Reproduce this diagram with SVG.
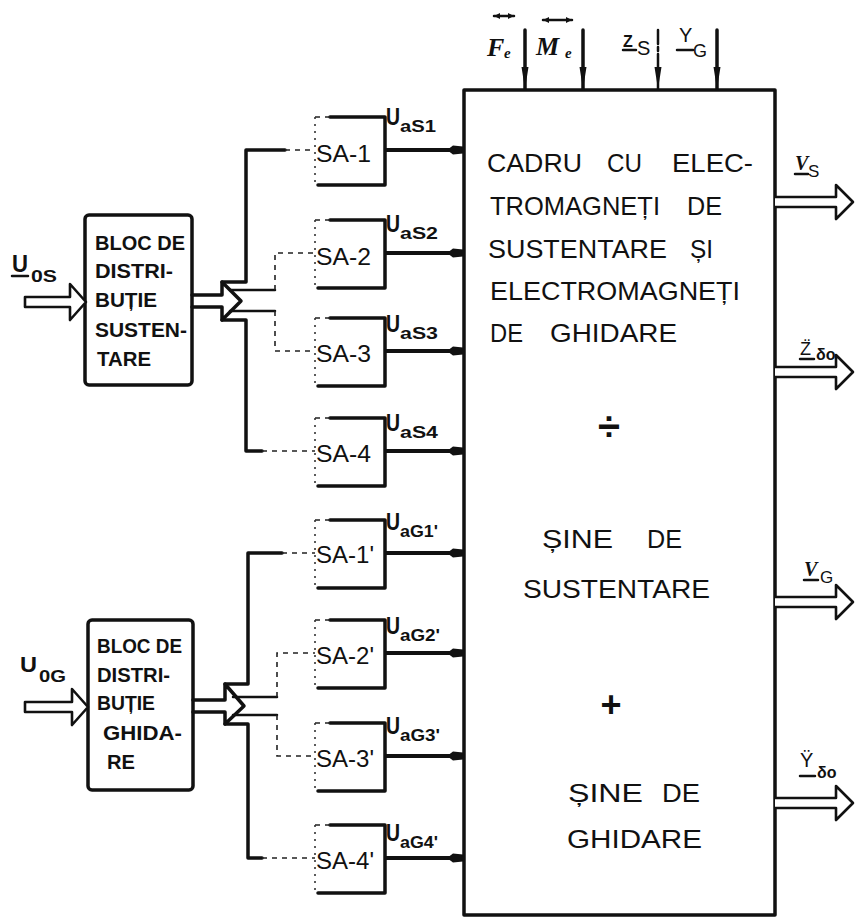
<svg xmlns="http://www.w3.org/2000/svg" width="856" height="918" viewBox="0 0 856 918">
<style>
.ln{stroke:#111;stroke-width:3.5;fill:none;stroke-linecap:round;stroke-linejoin:round}
.md{stroke:#111;stroke-width:2.5;fill:none;stroke-linecap:round;stroke-linejoin:round}
.dash{stroke:#222;stroke-width:1.6;fill:none;stroke-dasharray:5 5}
.dot{stroke:#333;stroke-width:1.6;fill:none;stroke-dasharray:2 5}
.dbl{stroke:#111;stroke-width:2.6;fill:#fff;stroke-linejoin:round}
.out{stroke:#111;stroke-width:4;fill:none}
.t{font-family:"Liberation Sans",Arial,sans-serif;fill:#111}
.big{font-size:26px}
.bl{font-size:21px;font-weight:bold}
.sa{font-size:24px}
.u{font-size:24px;font-weight:bold}
.sub{font-size:17px;font-weight:bold}
.it{font-family:"Liberation Serif","Times New Roman",serif;font-style:italic;font-weight:bold;fill:#111}
</style>
<defs>
<marker id="ah" markerUnits="userSpaceOnUse" markerWidth="18" markerHeight="12" refX="16" refY="6" orient="auto"><path d="M0,6 L6,1.5 L16,2.5 L16,9.5 L6,10.5 Z" fill="#111"/></marker>
<marker id="dn" markerUnits="userSpaceOnUse" markerWidth="24" markerHeight="10" refX="22" refY="5" orient="auto"><path d="M0,1.5 L22,5 L0,8.5 Z" fill="#111"/></marker>
<marker id="va" markerUnits="userSpaceOnUse" markerWidth="8" markerHeight="8" refX="6" refY="4" orient="auto-start-reverse"><path d="M0,1 L6,4 L0,7 Z" fill="#111"/></marker>
</defs>

<g id="main-block">
<rect x="464" y="90" width="311" height="825" class="ln"/>
<text class="t big" y="172"><tspan x="487" textLength="95" lengthAdjust="spacingAndGlyphs">CADRU</tspan><tspan x="607" textLength="35" lengthAdjust="spacingAndGlyphs">CU</tspan><tspan x="672" textLength="81" lengthAdjust="spacingAndGlyphs">ELEC-</tspan></text>
<text class="t big" y="215"><tspan x="490" textLength="170" lengthAdjust="spacingAndGlyphs">TROMAGNEȚI</tspan><tspan x="687" textLength="35" lengthAdjust="spacingAndGlyphs">DE</tspan></text>
<text class="t big" y="258"><tspan x="488" textLength="179" lengthAdjust="spacingAndGlyphs">SUSTENTARE</tspan><tspan x="690" textLength="23" lengthAdjust="spacingAndGlyphs">ȘI</tspan></text>
<text class="t big" y="300"><tspan x="490" textLength="250" lengthAdjust="spacingAndGlyphs">ELECTROMAGNEȚI</tspan></text>
<text class="t big" y="342"><tspan x="490" textLength="33" lengthAdjust="spacingAndGlyphs">DE</tspan><tspan x="550" textLength="127" lengthAdjust="spacingAndGlyphs">GHIDARE</tspan></text>
<text class="t" x="609" y="440" font-size="40" font-weight="bold" text-anchor="middle">÷</text>
<text class="t big" y="548"><tspan x="542" textLength="71" lengthAdjust="spacingAndGlyphs">ȘINE</tspan><tspan x="647" textLength="35" lengthAdjust="spacingAndGlyphs">DE</tspan></text>
<text class="t big" y="598"><tspan x="523" textLength="187" lengthAdjust="spacingAndGlyphs">SUSTENTARE</tspan></text>
<text class="t" x="611" y="717" font-size="36" font-weight="bold" text-anchor="middle">+</text>
<text class="t big" y="802"><tspan x="568" textLength="75" lengthAdjust="spacingAndGlyphs">ȘINE</tspan><tspan x="662" textLength="38" lengthAdjust="spacingAndGlyphs">DE</tspan></text>
<text class="t big" y="848"><tspan x="567" textLength="135" lengthAdjust="spacingAndGlyphs">GHIDARE</tspan></text>
</g>

<g id="bloc-sustentare">
<rect x="85" y="215" width="107" height="170" rx="4" class="ln"/>
<text class="t bl"><tspan x="95" y="250" textLength="90" lengthAdjust="spacingAndGlyphs">BLOC DE</tspan><tspan x="95" y="278" textLength="78" lengthAdjust="spacingAndGlyphs">DISTRI-</tspan><tspan x="95" y="307" textLength="62" lengthAdjust="spacingAndGlyphs">BUȚIE</tspan><tspan x="95" y="337" textLength="92" lengthAdjust="spacingAndGlyphs">SUSTEN-</tspan><tspan x="97" y="366" textLength="54" lengthAdjust="spacingAndGlyphs">TARE</tspan></text>
</g>

<g id="bloc-ghidare">
<rect x="88" y="620" width="105" height="170" rx="4" class="ln"/>
<text class="t bl"><tspan x="97" y="653" textLength="85" lengthAdjust="spacingAndGlyphs">BLOC DE</tspan><tspan x="97" y="682" textLength="73" lengthAdjust="spacingAndGlyphs">DISTRI-</tspan><tspan x="97" y="710" textLength="58" lengthAdjust="spacingAndGlyphs">BUȚIE</tspan><tspan x="103" y="740" textLength="79" lengthAdjust="spacingAndGlyphs">GHIDA-</tspan><tspan x="107" y="769" textLength="28" lengthAdjust="spacingAndGlyphs">RE</tspan></text>
</g>

<g id="sa-1">
<path class="ln" d="M330,117 L385,117 L385,185 L318,185"/><path class="dash" d="M315,117 L330,117"/><path class="dot" d="M315,117 L315,185"/>
<text class="t sa" x="316" y="162" textLength="55" lengthAdjust="spacingAndGlyphs">SA-1</text>
</g>
<g id="sa-2">
<path class="ln" d="M330,220 L385,220 L385,288 L318,288"/><path class="dash" d="M315,220 L330,220"/><path class="dot" d="M315,220 L315,288"/>
<text class="t sa" x="316" y="265" textLength="55" lengthAdjust="spacingAndGlyphs">SA-2</text>
</g>
<g id="sa-3">
<path class="ln" d="M330,318 L385,318 L385,386 L318,386"/><path class="dash" d="M315,318 L330,318"/><path class="dot" d="M315,318 L315,386"/>
<text class="t sa" x="316" y="362" textLength="55" lengthAdjust="spacingAndGlyphs">SA-3</text>
</g>
<g id="sa-4">
<path class="ln" d="M330,418 L385,418 L385,486 L318,486"/><path class="dash" d="M315,418 L330,418"/><path class="dot" d="M315,418 L315,486"/>
<text class="t sa" x="316" y="462" textLength="55" lengthAdjust="spacingAndGlyphs">SA-4</text>
</g>
<g id="sa-1p">
<path class="ln" d="M330,520 L385,520 L385,588 L318,588"/><path class="dash" d="M315,520 L330,520"/><path class="dot" d="M315,520 L315,588"/>
<text class="t sa" x="316" y="563" textLength="58" lengthAdjust="spacingAndGlyphs">SA-1'</text>
</g>
<g id="sa-2p">
<path class="ln" d="M330,620 L385,620 L385,688 L318,688"/><path class="dash" d="M315,620 L330,620"/><path class="dot" d="M315,620 L315,688"/>
<text class="t sa" x="316" y="664" textLength="58" lengthAdjust="spacingAndGlyphs">SA-2'</text>
</g>
<g id="sa-3p">
<path class="ln" d="M330,723 L385,723 L385,791 L318,791"/><path class="dash" d="M315,723 L330,723"/><path class="dot" d="M315,723 L315,791"/>
<text class="t sa" x="316" y="767" textLength="58" lengthAdjust="spacingAndGlyphs">SA-3'</text>
</g>
<g id="sa-4p">
<path class="ln" d="M330,825 L385,825 L385,893 L318,893"/><path class="dash" d="M315,825 L330,825"/><path class="dot" d="M315,825 L315,893"/>
<text class="t sa" x="316" y="869" textLength="58" lengthAdjust="spacingAndGlyphs">SA-4'</text>
</g>

<g id="labels">
<text class="t u" x="386" y="125" textLength="14" lengthAdjust="spacingAndGlyphs">U</text><text class="t sub" x="400" y="132" textLength="36" lengthAdjust="spacingAndGlyphs">aS1</text>
<text class="t u" x="386" y="232" textLength="14" lengthAdjust="spacingAndGlyphs">U</text><text class="t sub" x="400" y="239" textLength="38" lengthAdjust="spacingAndGlyphs">aS2</text>
<text class="t u" x="386" y="332" textLength="14" lengthAdjust="spacingAndGlyphs">U</text><text class="t sub" x="400" y="339" textLength="38" lengthAdjust="spacingAndGlyphs">aS3</text>
<text class="t u" x="386" y="431" textLength="14" lengthAdjust="spacingAndGlyphs">U</text><text class="t sub" x="400" y="438" textLength="38" lengthAdjust="spacingAndGlyphs">aS4</text>
<text class="t u" x="386" y="530" textLength="14" lengthAdjust="spacingAndGlyphs">U</text><text class="t sub" x="400" y="537" textLength="38" lengthAdjust="spacingAndGlyphs">aG1'</text>
<text class="t u" x="386" y="634" textLength="14" lengthAdjust="spacingAndGlyphs">U</text><text class="t sub" x="400" y="641" textLength="40" lengthAdjust="spacingAndGlyphs">aG2'</text>
<text class="t u" x="386" y="734" textLength="14" lengthAdjust="spacingAndGlyphs">U</text><text class="t sub" x="400" y="741" textLength="40" lengthAdjust="spacingAndGlyphs">aG3'</text>
<text class="t u" x="386" y="841" textLength="14" lengthAdjust="spacingAndGlyphs">U</text><text class="t sub" x="400" y="848" textLength="38" lengthAdjust="spacingAndGlyphs">aG4'</text>

<text class="t" x="12" y="272" font-size="24" font-weight="bold" textLength="16" lengthAdjust="spacingAndGlyphs">U</text><path class="md" d="M12,276 L28,276"/>
<text class="t" x="31" y="282" font-size="17" font-weight="bold" textLength="26" lengthAdjust="spacingAndGlyphs">0S</text>
<text class="t" x="20" y="672" font-size="22" font-weight="bold" textLength="17" lengthAdjust="spacingAndGlyphs">U</text>
<text class="t" x="39" y="682" font-size="17" font-weight="bold" textLength="27" lengthAdjust="spacingAndGlyphs">0G</text>

<text class="it" x="487" y="56" font-size="26">F</text><text class="it" x="504" y="58" font-size="15">e</text>
<path class="md" d="M494,16 L514,16" stroke-width="2" marker-start="url(#va)" marker-end="url(#va)"/>
<text class="it" x="536" y="55" font-size="26">M</text><text class="it" x="565" y="58" font-size="15">e</text>
<path class="md" d="M543,20 L572,20" stroke-width="2" marker-start="url(#va)" marker-end="url(#va)"/>
<text class="t" x="623" y="47" font-size="16" font-weight="bold">Z</text><path class="md" d="M623,50 L636,50" stroke-width="2"/>
<text class="t" x="637" y="55" font-size="20">S</text>
<text class="t" x="679" y="42" font-size="20">Y</text><path class="md" d="M677,50 L693,50" stroke-width="2"/>
<text class="t" x="693" y="57" font-size="18">G</text>

<text class="it" x="795" y="170" font-size="20">V</text><path class="md" d="M795,174 L808,174" stroke-width="2"/>
<text class="t" x="808" y="177" font-size="17">S</text>
<text class="t" x="800" y="355" font-size="18">Z̈</text><path class="md" d="M800,359 L814,359" stroke-width="2"/>
<text class="t" x="816" y="360" font-size="16" font-weight="bold">δo</text>
<text class="it" x="804" y="576" font-size="20">V</text><path class="md" d="M804,580 L818,580" stroke-width="2"/>
<text class="t" x="820" y="583" font-size="17">G</text>
<text class="t" x="800" y="767" font-size="20">Ÿ</text><path class="md" d="M800,776 L815,776" stroke-width="2"/>
<text class="t" x="817" y="778" font-size="16" font-weight="bold">δo</text>
</g>

<g id="connectors">
<path class="dbl" d="M25,297 L70,297 L70,284 L86,302 L70,320 L70,307 L25,307 Z"/>
<path class="dbl" d="M25,702 L72,702 L72,689 L88,707 L72,725 L72,712 L25,712 Z"/>
<path class="ln" d="M192,295 L222,295 M192,307 L222,307 M222,295 L222,282 L241,301 L222,320 L222,307"/>
<path class="ln" d="M222,282 L246,282 L246,150 L285,150 M222,320 L246,320 L246,451 L262,451"/>
<path class="md" d="M230,290 L275,290 M230,311 L275,311"/>
<path class="dash" d="M285,150 L315,150 M262,451 L315,451 M275,290 L275,253 L315,253 M275,311 L275,351 L315,351"/>
<path class="ln" d="M193,700 L225,700 M193,712 L225,712 M225,700 L225,684 L244,706 L225,724 L225,712"/>
<path class="ln" d="M225,684 L248,684 L248,553 L282,553 M225,724 L248,724 L248,858 L262,858"/>
<path class="md" d="M233,697 L277,697 M233,715 L277,715"/>
<path class="dash" d="M282,553 L315,553 M262,858 L315,858 M277,697 L277,653 L315,653 M277,715 L277,756 L315,756"/>
<path class="out" marker-end="url(#ah)" d="M385,150 L463,150"/>
<path class="out" marker-end="url(#ah)" d="M385,253 L463,253"/>
<path class="out" marker-end="url(#ah)" d="M385,351 L463,351"/>
<path class="out" marker-end="url(#ah)" d="M385,451 L463,451"/>
<path class="out" marker-end="url(#ah)" d="M385,553 L463,553"/>
<path class="out" marker-end="url(#ah)" d="M385,653 L463,653"/>
<path class="out" marker-end="url(#ah)" d="M385,756 L463,756"/>
<path class="out" marker-end="url(#ah)" d="M385,858 L463,858"/>
<path class="ln" marker-end="url(#dn)" d="M525,30 L525,89"/>
<path class="ln" marker-end="url(#dn)" d="M583,30 L583,89"/>
<path class="md" stroke-width="2" stroke-dasharray="14 3 4 3" marker-end="url(#dn)" d="M658,30 L658,89"/>
<path class="ln" marker-end="url(#dn)" d="M717,30 L717,89"/>
<path class="dbl" d="M775,197 L836,197 L836,185 L853,202 L836,219 L836,207 L775,207"/>
<path class="dbl" d="M775,367 L836,367 L836,355 L853,372 L836,389 L836,377 L775,377"/>
<path class="dbl" d="M775,597 L836,597 L836,585 L853,602 L836,619 L836,607 L775,607"/>
<path class="dbl" d="M775,798 L836,798 L836,786 L853,803 L836,820 L836,808 L775,808"/>
</g>
</svg>
